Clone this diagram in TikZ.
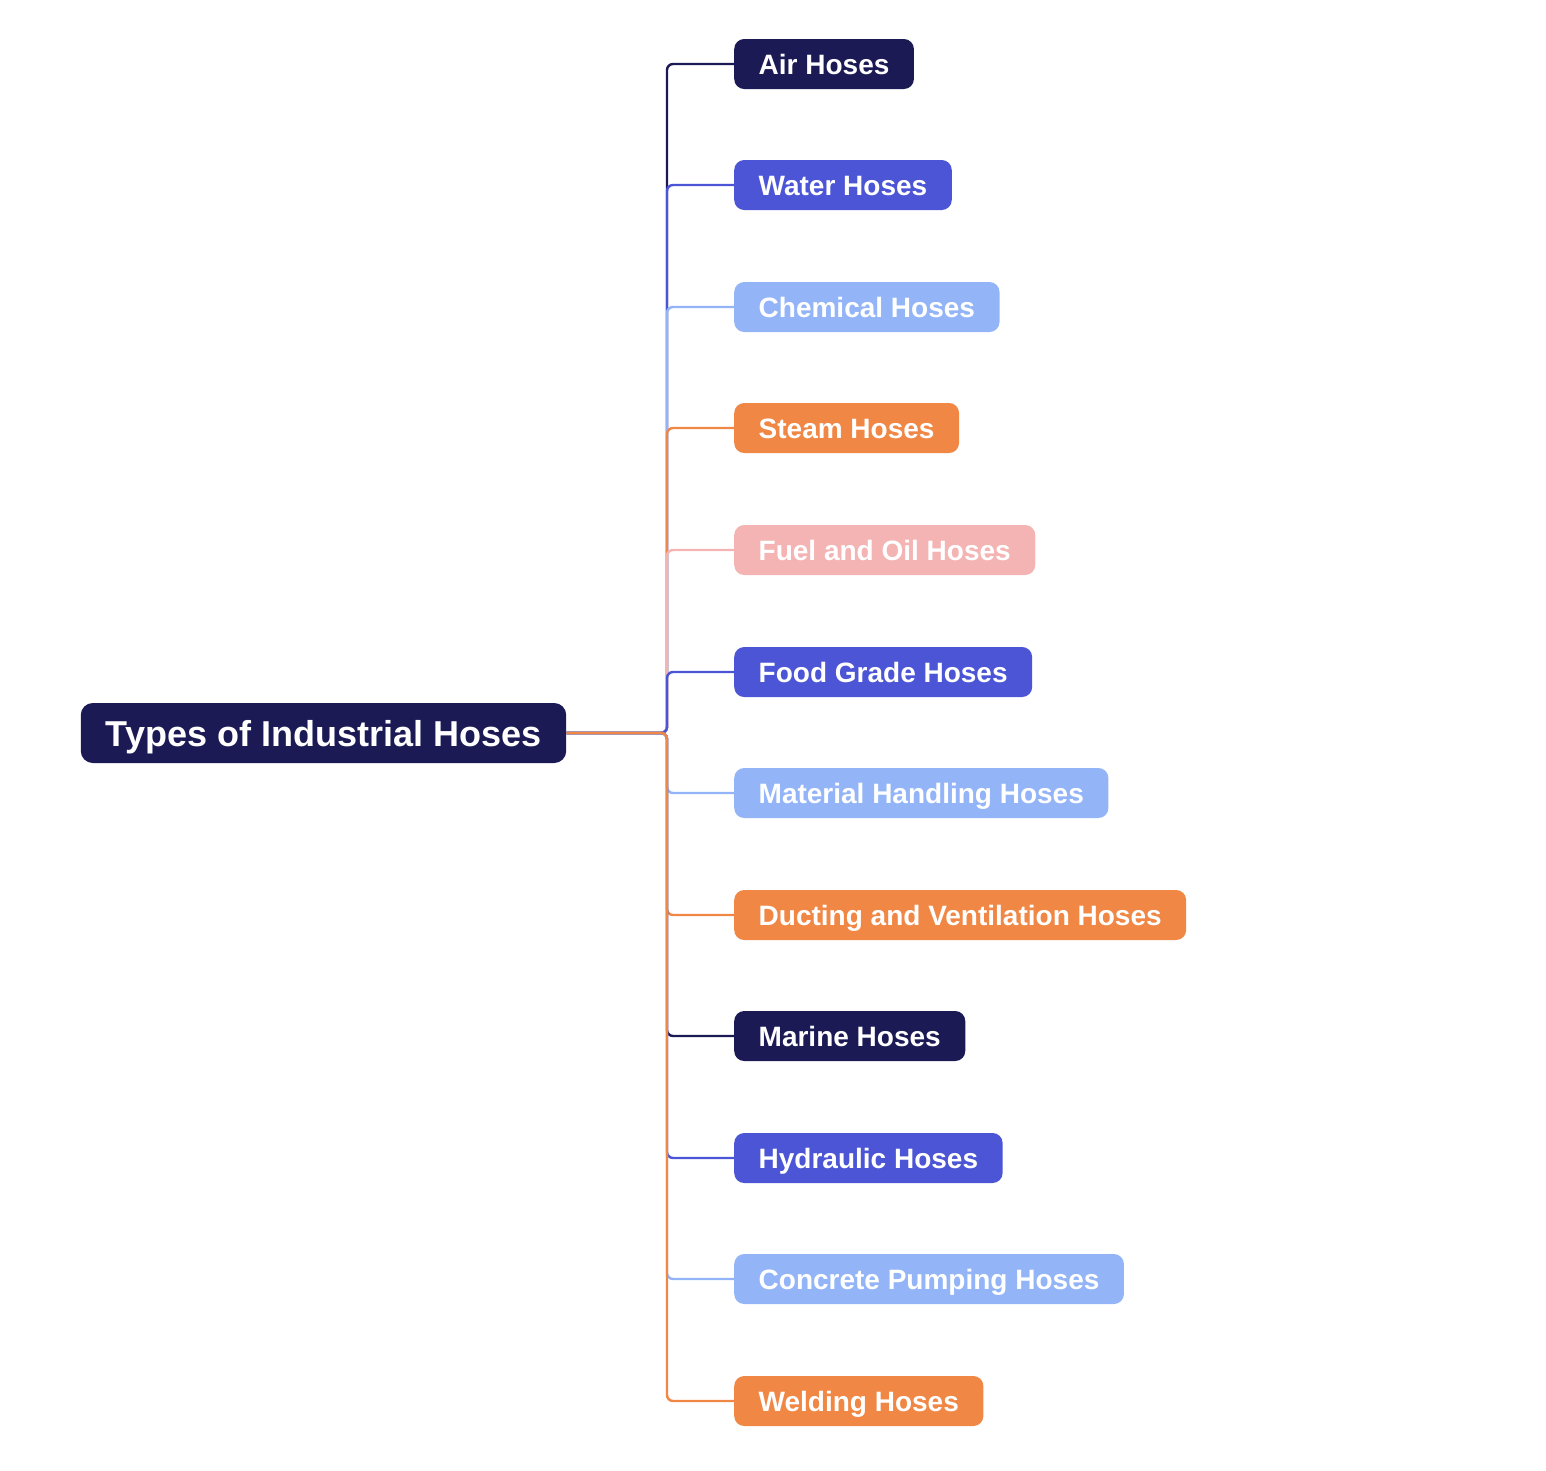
\documentclass[tikz,border=0pt]{standalone}
\usepackage{fontspec}
\setmainfont{Liberation Sans}
\definecolor{cnavy}{HTML}{1B1A55}
\definecolor{cblue}{HTML}{4B55D5}
\definecolor{clight}{HTML}{93B5F7}
\definecolor{corange}{HTML}{F08745}
\definecolor{cpink}{HTML}{F4B4B4}
\begin{document}
\begin{tikzpicture}[x=1pt,y=-1pt,
  child/.style={anchor=west,rounded corners=10pt,minimum height=50pt,inner xsep=24.5pt,inner ysep=0pt,
    text height=20pt,text depth=0pt,text=white,font=\fontsize{28}{34}\selectfont\bfseries},
  rootbox/.style={rounded corners=12pt,fill=cnavy,minimum height=60pt,inner xsep=25pt,inner ysep=0pt,
    text height=26pt,text depth=0pt,text=white,font=\fontsize{36}{42}\selectfont\bfseries},
  conn/.style={line width=2.4pt,rounded corners=6pt}]
\useasboundingbox (0,0) rectangle (1546,1470);
\node[rootbox] (root) at (323.5,733) {Types of Industrial Hoses};
\coordinate (j) at (667,733);
\node[child,fill=cnavy] (n1) at (734,64) {Air Hoses};
\node[child,fill=cblue] (n2) at (734,185) {Water Hoses};
\node[child,fill=clight] (n3) at (734,307) {Chemical Hoses};
\node[child,fill=corange] (n4) at (734,428) {Steam Hoses};
\node[child,fill=cpink] (n5) at (734,550) {Fuel and Oil Hoses};
\node[child,fill=cblue] (n6) at (734,672) {Food Grade Hoses};
\node[child,fill=clight] (n7) at (734,793) {Material Handling Hoses};
\node[child,fill=corange] (n8) at (734,915) {Ducting and Ventilation Hoses};
\node[child,fill=cnavy] (n9) at (734,1036) {Marine Hoses};
\node[child,fill=cblue] (n10) at (734,1158) {Hydraulic Hoses};
\node[child,fill=clight] (n11) at (734,1279) {Concrete Pumping Hoses};
\node[child,fill=corange] (n12) at (734,1401) {Welding Hoses};
\foreach \n/\c in {n1/cnavy,n2/cblue,n3/clight,n4/corange,n5/cpink,n6/cblue,
  n7/clight,n8/corange,n9/cnavy,n10/cblue,n11/clight,n12/corange}{
  \draw[conn,draw=\c] (root.east) -- (j) |- (\n.west);
}
\end{tikzpicture}
\end{document}
